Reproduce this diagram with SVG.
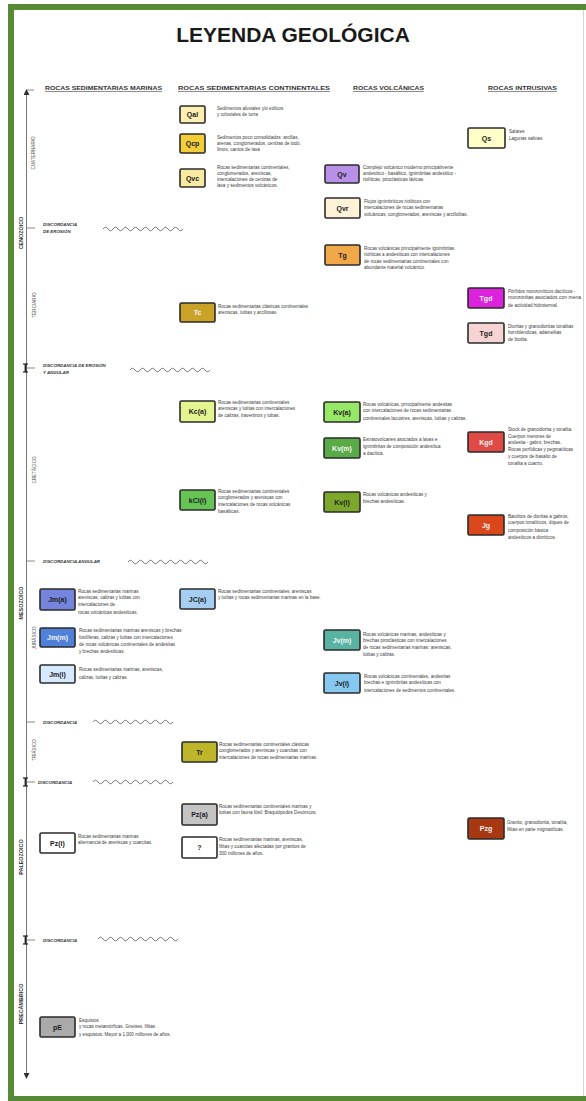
<svg xmlns="http://www.w3.org/2000/svg" width="586" height="1101" viewBox="0 0 586 1101">
<style>
  .frame{fill:none;stroke:#568a35;stroke-width:6}
  .edge{stroke:#d4d4d4;stroke-width:1}
  .title{font-family:"Liberation Sans",Arial,sans-serif;font-weight:bold;font-size:21px;fill:#1a1a1a}
  .hdr{font-family:"Liberation Sans",Arial,sans-serif;font-weight:bold;font-size:5.6px;fill:#333;text-decoration:underline}
  .era{font-family:"Liberation Sans",Arial,sans-serif;font-weight:bold;font-size:5.4px;fill:#333}
  .per{font-family:"Liberation Sans",Arial,sans-serif;font-size:4.6px;fill:#555}
  .disc{font-family:"Liberation Sans",Arial,sans-serif;font-weight:bold;font-style:italic;font-size:4.4px;fill:#333}
  .box{stroke:#2b2b2b;stroke-width:1.6}
  .lbl{font-family:"Liberation Sans",Arial,sans-serif;font-weight:bold;font-size:7px;fill:#222;text-anchor:middle}
  .lbl.w{fill:#f4f4f4}
  .desc{font-family:"Liberation Sans",Arial,sans-serif;font-size:4.6px;fill:#3a3a3a}
  .axis{stroke:#777;stroke-width:1;fill:none}
  .tick{stroke:#888;stroke-width:1}
  .wave{stroke:#666;stroke-width:0.9;fill:none}
</style>
<defs>
  <marker id="arr" viewBox="0 0 6 6" refX="3" refY="3" markerWidth="6" markerHeight="6" orient="auto-start-reverse">
    <path d="M0 0 L6 3 L0 6 Z" fill="#333"/>
  </marker>
  <path id="wv" d="M0 0 q2.5 -3.5 5 0 t5 0 t5 0 t5 0 t5 0 t5 0 t5 0 t5 0 t5 0 t5 0 t5 0 t5 0 t5 0 t5 0 t5 0 t5 0"/>
  <g id="ibeam">
    <line x1="0" y1="-4" x2="0" y2="4" stroke="#222" stroke-width="1.8"/>
    <line x1="-2.5" y1="-4" x2="2.5" y2="-4" stroke="#222" stroke-width="1.2"/>
    <line x1="-2.5" y1="4" x2="2.5" y2="4" stroke="#222" stroke-width="1.2"/>
  </g>
</defs>

<!-- sheet and frame: green on left, top and bottom; thin grey right edge -->
<rect x="0" y="0" width="586" height="1101" fill="#fff"/>
<line class="edge" x1="583.5" y1="10" x2="583.5" y2="1096"/>
<path class="frame" d="M590 7 H11 V1099 H590"/>
<text class="title" x="293" y="42" text-anchor="middle">LEYENDA GEOLÓGICA</text>

<!-- column headings -->
<g id="headers">
  <text class="hdr" x="45" y="90" textLength="117" lengthAdjust="spacingAndGlyphs">ROCAS SEDIMENTARIAS MARINAS</text>
  <text class="hdr" x="178" y="90" textLength="152" lengthAdjust="spacingAndGlyphs">ROCAS SEDIMENTARIAS CONTINENTALES</text>
  <text class="hdr" x="353" y="90" textLength="71" lengthAdjust="spacingAndGlyphs">ROCAS VOLCÁNICAS</text>
  <text class="hdr" x="488" y="90" textLength="69" lengthAdjust="spacingAndGlyphs">ROCAS INTRUSIVAS</text>
</g>

<!-- time axis, eras, periods and unconformities -->
<g id="connectors">
  <line class="axis" x1="26.5" y1="92" x2="26.5" y2="1076" marker-start="url(#arr)" marker-end="url(#arr)"/>
  <line class="tick" x1="27" y1="90" x2="34" y2="90"/>
  <line class="tick" x1="27" y1="228" x2="35" y2="228"/>
  <line class="tick" x1="27" y1="368" x2="35" y2="368"/>
  <line class="tick" x1="27" y1="561" x2="35" y2="561"/>
  <line class="tick" x1="27" y1="722" x2="35" y2="722"/>
  <line class="tick" x1="27" y1="782" x2="35" y2="782"/>
  <line class="tick" x1="27" y1="940" x2="35" y2="940"/>
  <use href="#ibeam" x="25.5" y="368"/>
  <use href="#ibeam" x="25.5" y="782"/>
  <use href="#ibeam" x="25.5" y="940"/>
  <use class="wave" href="#wv" x="103" y="229"/>
  <use class="wave" href="#wv" x="130" y="370"/>
  <use class="wave" href="#wv" x="128" y="562"/>
  <use class="wave" href="#wv" x="93" y="722"/>
  <use class="wave" href="#wv" x="93" y="782"/>
  <use class="wave" href="#wv" x="98" y="939"/>
</g>

<g id="eras">
  <text class="era" transform="translate(23 233) rotate(-90)" text-anchor="middle">CENOZOICO</text>
  <text class="era" transform="translate(23 603) rotate(-90)" text-anchor="middle">MESOZOICO</text>
  <text class="era" transform="translate(23 857) rotate(-90)" text-anchor="middle">PALEOZOICO</text>
  <text class="era" transform="translate(23 1004) rotate(-90)" text-anchor="middle">PRECÁMBRICO</text>
</g>
<g id="periods">
  <text class="per" transform="translate(35 153) rotate(-90)" text-anchor="middle">CUATERNARIO</text>
  <text class="per" transform="translate(36 305) rotate(-90)" text-anchor="middle">TERCIARIO</text>
  <text class="per" transform="translate(36 470) rotate(-90)" text-anchor="middle">CRETÁCICO</text>
  <text class="per" transform="translate(36 638) rotate(-90)" text-anchor="middle">JURÁSICO</text>
  <text class="per" transform="translate(36 750) rotate(-90)" text-anchor="middle">TRIÁSICO</text>
</g>
<g id="discordancias">
  <text class="disc" x="43" y="226">DISCORDANCIA</text>
  <text class="disc" x="43" y="233">DE EROSIÓN</text>
  <text class="disc" x="43" y="367">DISCORDANCIA DE EROSIÓN</text>
  <text class="disc" x="43" y="374">Y ANGULAR</text>
  <text class="disc" x="43" y="563">DISCORDANCIA ANGULAR</text>
  <text class="disc" x="43" y="724">DISCORDANCIA</text>
  <text class="disc" x="38" y="784">DISCORDANCIA</text>
  <text class="disc" x="43" y="942">DISCORDANCIA</text>
</g>

<!-- Cuaternario -->
<g id="Qal">
  <rect class="box" x="180" y="106" width="25" height="17" rx="1.5" fill="#fdefb2"/>
  <text class="lbl" x="192.5" y="117">Qal</text>
  <text class="desc" x="217" y="110">Sedimentos aluviales y/o eólicos</text>
  <text class="desc" x="217" y="116">y coluviales de turra</text>
</g>
<g id="Qcp">
  <rect class="box" x="180" y="134" width="25" height="19" rx="1.5" fill="#f2cf3a"/>
  <text class="lbl" x="192.5" y="146">Qcp</text>
  <text class="desc" x="217" y="139">Sedimentos poco consolidados: arcillas,</text>
  <text class="desc" x="217" y="145">arenas, conglomerados, cenizas de lodo,</text>
  <text class="desc" x="217" y="151">limos, cantos de lava</text>
</g>
<g id="Qvc">
  <rect class="box" x="180" y="169" width="25" height="18" rx="1.5" fill="#f8e9a1"/>
  <text class="lbl" x="192.5" y="180.5">Qvc</text>
  <text class="desc" x="217" y="169">Rocas sedimentarias continentales,</text>
  <text class="desc" x="217" y="175">conglomerados, areniscas,</text>
  <text class="desc" x="217" y="181">intercalaciones de cenizas de</text>
  <text class="desc" x="217" y="187">lava y sedimentos volcánicos.</text>
</g>
<g id="Qs">
  <rect class="box" x="468" y="128" width="37" height="20" rx="1.5" fill="#ffffc8"/>
  <text class="lbl" x="486.5" y="140.5">Qs</text>
  <text class="desc" x="509" y="133">Salares</text>
  <text class="desc" x="509" y="140">Lagunas salinas</text>
</g>
<g id="Qv">
  <rect class="box" x="325" y="165" width="34" height="18" rx="1.5" fill="#b890e8"/>
  <text class="lbl" x="342" y="176.5">Qv</text>
  <text class="desc" x="363" y="169">Complejo volcánico moderno principalmente</text>
  <text class="desc" x="363" y="175">andesítico - basáltico, ignimbritas andesítico -</text>
  <text class="desc" x="363" y="181">riolíticas, piroclásticas lávicas.</text>
</g>
<g id="Qvr">
  <rect class="box" x="325" y="198" width="35" height="20" rx="1.5" fill="#fff2d6"/>
  <text class="lbl" x="342.5" y="210.5">Qvr</text>
  <text class="desc" x="364" y="203">Flujos ignimbríticos riolíticos con</text>
  <text class="desc" x="364" y="209">intercalaciones de rocas sedimentarias</text>
  <text class="desc" x="364" y="216">volcánicas, conglomerados, areniscas y arcillolitas.</text>
</g>

<!-- Terciario -->
<g id="Tg">
  <rect class="box" x="325" y="245" width="35" height="20" rx="1.5" fill="#f0a848"/>
  <text class="lbl" x="342.5" y="257.5">Tg</text>
  <text class="desc" x="364" y="250">Rocas volcánicas principalmente ignimbritas</text>
  <text class="desc" x="364" y="256">riolíticas a andesíticas con intercalaciones</text>
  <text class="desc" x="364" y="263">de rocas sedimentarias continentales con</text>
  <text class="desc" x="364" y="269">abundante material volcánico.</text>
</g>
<g id="Tgd-porfido">
  <rect class="box" x="468" y="288" width="36" height="20" rx="1.5" fill="#dd22dd"/>
  <text class="lbl w" x="486" y="300.5">Tgd</text>
  <text class="desc" x="508" y="293">Pórfidos monzoníticos dacíticos -</text>
  <text class="desc" x="508" y="299" textLength="73" lengthAdjust="spacingAndGlyphs">monzonitas asociados con mena</text>
  <text class="desc" x="508" y="307">de actividad hidrotermal.</text>
</g>
<g id="Tc">
  <rect class="box" x="180" y="303" width="35" height="19" rx="1.5" fill="#c9a227"/>
  <text class="lbl w" x="197.5" y="315">Tc</text>
  <text class="desc" x="218" y="308">Rocas sedimentarias clásticas continentales</text>
  <text class="desc" x="218" y="314">areniscas, lutitas y arcillosas.</text>
</g>
<g id="Tgd">
  <rect class="box" x="468" y="323" width="36" height="20" rx="1.5" fill="#f7d4d4"/>
  <text class="lbl" x="486" y="335.5">Tgd</text>
  <text class="desc" x="508" y="328">Dioritas y granodioritas tonalitas</text>
  <text class="desc" x="508" y="334">hornbléndicas, adamelitas</text>
  <text class="desc" x="508" y="341">de biotita.</text>
</g>

<!-- Cretácico -->
<g id="Kca">
  <rect class="box" x="180" y="401" width="35" height="21" rx="1.5" fill="#e4f590"/>
  <text class="lbl" x="197.5" y="414">Kc(a)</text>
  <text class="desc" x="218" y="404">Rocas sedimentarias continentales</text>
  <text class="desc" x="218" y="410">areniscas y lutitas con intercalaciones</text>
  <text class="desc" x="218" y="417">de calizas, travertinos y tobas.</text>
</g>
<g id="Kva">
  <rect class="box" x="324" y="402" width="36" height="20" rx="1.5" fill="#98e868"/>
  <text class="lbl" x="342" y="414.5">Kv(a)</text>
  <text class="desc" x="363" y="406">Rocas volcánicas, principalmente andesitas</text>
  <text class="desc" x="363" y="412">con intercalaciones de rocas sedimentarias</text>
  <text class="desc" x="363" y="420">continentales lacustres, areniscas, lutitas y calizas.</text>
</g>
<g id="Kvm">
  <rect class="box" x="324" y="438" width="36" height="20" rx="1.5" fill="#5baa48"/>
  <text class="lbl w" x="342" y="450.5">Kv(m)</text>
  <text class="desc" x="363" y="441">Estratovolcanes asociados a lavas e</text>
  <text class="desc" x="363" y="448">ignimbritas de composición andesítica</text>
  <text class="desc" x="363" y="455">a dacítica.</text>
</g>
<g id="Kgd">
  <rect class="box" x="468" y="432" width="36" height="20" rx="1.5" fill="#e04a44"/>
  <text class="lbl w" x="486" y="444.5">Kgd</text>
  <text class="desc" x="508" y="431">Stock de granodiorita y tonalita.</text>
  <text class="desc" x="508" y="438">Cuerpos menores de</text>
  <text class="desc" x="508" y="444">andesita - gabro, brechas.</text>
  <text class="desc" x="508" y="451">Rocas porfídicas y pegmatíticas</text>
  <text class="desc" x="508" y="458">y cuerpos de basalto de</text>
  <text class="desc" x="508" y="465">tonalita a cuarzo.</text>
</g>
<g id="KCii">
  <rect class="box" x="180" y="490" width="35" height="20" rx="1.5" fill="#66c455"/>
  <text class="lbl" x="197.5" y="502.5">kCi(i)</text>
  <text class="desc" x="218" y="493">Rocas sedimentarias continentales</text>
  <text class="desc" x="218" y="499">conglomerados y areniscas con</text>
  <text class="desc" x="218" y="506">intercalaciones de rocas volcánicas</text>
  <text class="desc" x="218" y="513">basálticas.</text>
</g>
<g id="Kvi">
  <rect class="box" x="324" y="492" width="36" height="20" rx="1.5" fill="#7ba82a"/>
  <text class="lbl" x="342" y="504.5">Kv(i)</text>
  <text class="desc" x="363" y="496">Rocas volcánicas andesíticas y</text>
  <text class="desc" x="363" y="503">brechas andesíticas.</text>
</g>
<g id="Jg">
  <rect class="box" x="468" y="515" width="36" height="20" rx="1.5" fill="#d9471a"/>
  <text class="lbl w" x="486" y="527.5">Jg</text>
  <text class="desc" x="508" y="518">Batolitos de dioritas a gabros,</text>
  <text class="desc" x="508" y="524">cuerpos tonalíticos, diques de</text>
  <text class="desc" x="508" y="532">composición básica</text>
  <text class="desc" x="508" y="539">andesíticos a dioríticos.</text>
</g>

<!-- Jurásico -->
<g id="Jma">
  <rect class="box" x="40" y="589" width="35" height="21" rx="1.5" fill="#7585dd"/>
  <text class="lbl" x="57.5" y="602">Jm(a)</text>
  <text class="desc" x="78" y="593">Rocas sedimentarias marinas</text>
  <text class="desc" x="78" y="599">areniscas, calizas y lutitas con</text>
  <text class="desc" x="78" y="606">intercalaciones de</text>
  <text class="desc" x="78" y="614">rocas volcánicas andesíticas.</text>
</g>
<g id="JCa">
  <rect class="box" x="180" y="589" width="35" height="20" rx="1.5" fill="#a6cdf2"/>
  <text class="lbl" x="197.5" y="601.5">JC(a)</text>
  <text class="desc" x="218" y="593">Rocas sedimentarias continentales, areniscas</text>
  <text class="desc" x="218" y="599">y lutitas y rocas sedimentarias marinas en la base.</text>
</g>
<g id="Jmm">
  <rect class="box" x="40" y="628" width="35" height="19" rx="1.5" fill="#5080d8"/>
  <text class="lbl w" x="57.5" y="640">Jm(m)</text>
  <text class="desc" x="79" y="632">Rocas sedimentarias marinas areniscas y brechas</text>
  <text class="desc" x="79" y="639">fosilíferas, calizas y lutitas con intercalaciones</text>
  <text class="desc" x="79" y="646">de rocas volcánicas continentales de andesitas</text>
  <text class="desc" x="79" y="653">y brechas andesíticas.</text>
</g>
<g id="Jvm">
  <rect class="box" x="324" y="630" width="36" height="20" rx="1.5" fill="#58b3a2"/>
  <text class="lbl w" x="342" y="642.5">Jv(m)</text>
  <text class="desc" x="363" y="636">Rocas volcánicas marinas, andesíticas y</text>
  <text class="desc" x="363" y="642">brechas piroclásticas con intercalaciones</text>
  <text class="desc" x="363" y="649">de rocas sedimentarias marinas: areniscas,</text>
  <text class="desc" x="363" y="656">lutitas y calizas.</text>
</g>
<g id="Jmi">
  <rect class="box" x="40" y="665" width="35" height="18" rx="1.5" fill="#d6eaff"/>
  <text class="lbl" x="57.5" y="676.5">Jm(i)</text>
  <text class="desc" x="79" y="671">Rocas sedimentarias marinas, areniscas,</text>
  <text class="desc" x="79" y="679">calizas, lutitas y calizas.</text>
</g>
<g id="Jvi">
  <rect class="box" x="324" y="673" width="36" height="20" rx="1.5" fill="#85c8f0"/>
  <text class="lbl" x="342" y="685.5">Jv(i)</text>
  <text class="desc" x="364" y="678">Rocas volcánicas continentales, andesitas</text>
  <text class="desc" x="364" y="684">brechas e ignimbritas andesíticas con</text>
  <text class="desc" x="364" y="692">intercalaciones de sedimentos continentales.</text>
</g>

<!-- Triásico -->
<g id="Tr">
  <rect class="box" x="182" y="742" width="35" height="20" rx="1.5" fill="#bdb52a"/>
  <text class="lbl" x="199.5" y="754.5">Tr</text>
  <text class="desc" x="219" y="746">Rocas sedimentarias continentales clásticas</text>
  <text class="desc" x="219" y="752">conglomerados y areniscas y cuarcitas con</text>
  <text class="desc" x="219" y="759">intercalaciones de rocas sedimentarias marinas.</text>
</g>

<!-- Paleozoico -->
<g id="Pza">
  <rect class="box" x="182" y="804" width="35" height="21" rx="1.5" fill="#c4c4c4"/>
  <text class="lbl" x="199.5" y="817">Pz(a)</text>
  <text class="desc" x="219" y="808">Rocas sedimentarias continentales marinas y</text>
  <text class="desc" x="219" y="814">lutitas con fauna fósil: Braquiópodos Devónicos.</text>
</g>
<g id="Pzg">
  <rect class="box" x="468" y="818" width="36" height="21" rx="1.5" fill="#a83812"/>
  <text class="lbl w" x="486" y="831">Pzg</text>
  <text class="desc" x="507" y="824">Granito, granodiorita, tonalita,</text>
  <text class="desc" x="507" y="831">filitas en parte migmatíticas.</text>
</g>
<g id="Pzi">
  <rect class="box" x="40" y="833" width="35" height="20" rx="1.5" fill="#ffffff"/>
  <text class="lbl" x="57.5" y="845.5">Pz(i)</text>
  <text class="desc" x="78" y="838">Rocas sedimentarias marinas</text>
  <text class="desc" x="78" y="844">alternancia de areniscas y cuarcitas.</text>
</g>
<g id="Pz-indet">
  <rect class="box" x="182" y="837" width="35" height="21" rx="1.5" fill="#ffffff"/>
  <text class="lbl" x="199.5" y="850">?</text>
  <text class="desc" x="219" y="841">Rocas sedimentarias marinas, areniscas,</text>
  <text class="desc" x="219" y="848">filitas y cuarcitas afectadas por granitos de</text>
  <text class="desc" x="219" y="855">300 millones de años.</text>
</g>

<!-- Precámbrico -->
<g id="pE">
  <rect class="box" x="40" y="1017" width="35" height="20" rx="1.5" fill="#aaaaaa"/>
  <text class="lbl" x="57.5" y="1029.5">pE</text>
  <text class="desc" x="79" y="1022">Esquistos</text>
  <text class="desc" x="79" y="1028">y rocas metamórficas. Gneises, filitas</text>
  <text class="desc" x="79" y="1036">y esquistos. Mayor a 1.000 millones de años.</text>
</g>
</svg>
